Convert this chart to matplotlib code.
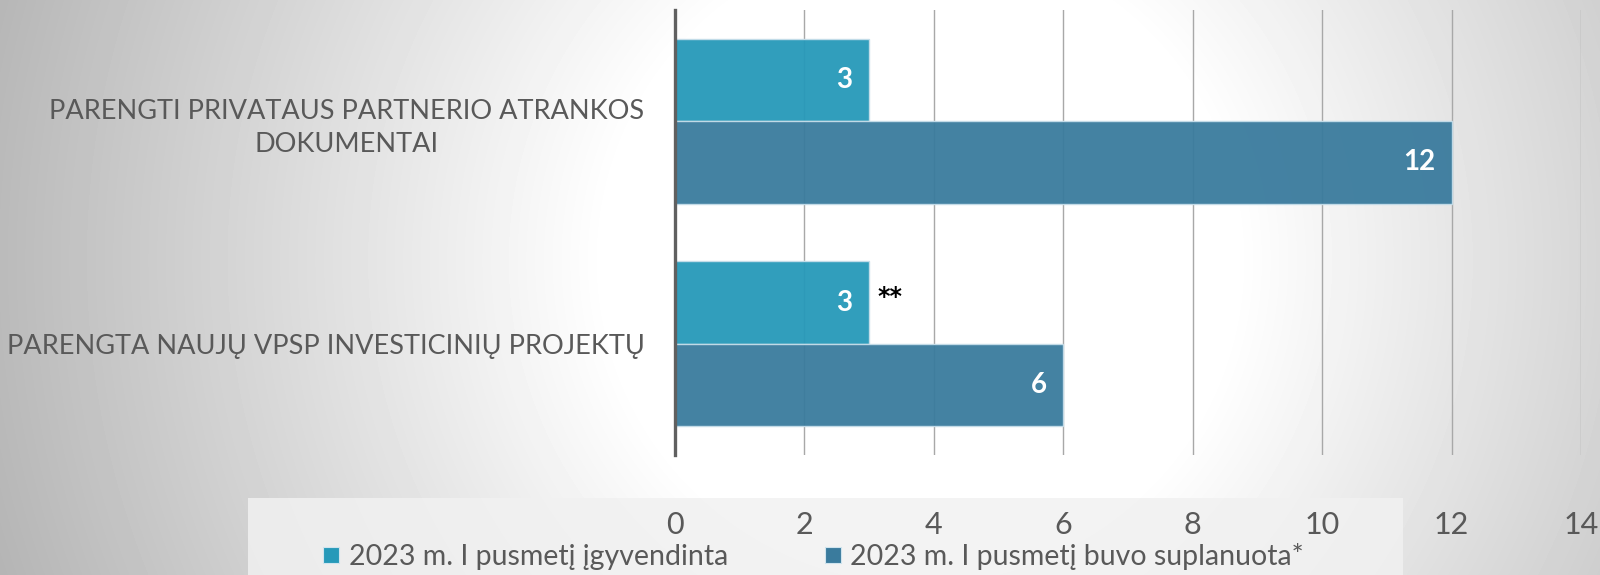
import numpy as np
import matplotlib
matplotlib.use("Agg")
import matplotlib.pyplot as plt
from matplotlib.lines import Line2D
from matplotlib.patches import Rectangle

categories = ["PARENGTI PRIVATAUS PARTNERIO ATRANKOS\nDOKUMENTAI",
              "PARENGTA NAUJŲ VPSP INVESTICINIŲ PROJEKTŲ"]
implemented = [3, 3]
planned = [12, 6]
notes = ["", "**"]
series_names = ["2023 m. I pusmetį įgyvendinta",
                "2023 m. I pusmetį buvo suplanuota*"]
xticks = [0, 2, 4, 6, 8, 10, 12, 14]

light = "#2699b9"
dark = "#3a7b9d"
grey_txt = "#595959"

plt.rcParams['font.family'] = ['Lato', 'DejaVu Sans']

fig = plt.figure(figsize=(16, 5.75), dpi=100)

# radial grey-white background
bg = fig.add_axes([0, 0, 1, 1], zorder=-10)
W, H = 1600, 575
xx, yy = np.meshgrid(np.arange(W), np.arange(H))
r = np.sqrt(((xx - 920) / 900.0) ** 2 + ((yy - 260) / 900.0) ** 2)
val = 1 - 0.26 * np.clip((r - 0.35) / 0.65, 0, 1.2)
bg.imshow(val, cmap='gray', vmin=0, vmax=1, aspect='auto', interpolation='bilinear')
bg.axis('off')

ax = fig.add_axes([675 / 1600, 1 - 455 / 575, 906 / 1600, 445 / 575])
ax.set_facecolor('none')

ypos = np.arange(len(categories))[::-1]  # first category on top
h = 0.37
b1 = ax.barh(ypos + h / 2, implemented, height=h, color=light, alpha=0.95,
             edgecolor='#c5dde9', linewidth=1, zorder=2)
b2 = ax.barh(ypos - h / 2, planned, height=h, color=dark, alpha=0.95,
             edgecolor='#c5dde9', linewidth=1, zorder=2)

for bars in (b1, b2):
    for bar in bars:
        w = bar.get_width()
        ax.annotate(str(int(w)), (w, bar.get_y() + bar.get_height() / 2),
                    xytext=(-12, 0), textcoords='offset points',
                    ha='right', va='center', color='white',
                    fontsize=20, fontweight='bold', zorder=3)

for bar, note in zip(b1, notes):
    if note:
        ax.annotate(note, (bar.get_width(), bar.get_y() + bar.get_height() / 2),
                    xytext=(6, 4), textcoords='offset points',
                    ha='left', va='center', color='black', fontsize=17,
                    fontweight='bold', family=['DejaVu Sans'])

ax.set_xlim(0, 14)
ax.set_ylim(-0.5, 1.5)
ax.set_xticks(xticks)
ax.set_yticks(ypos)
ax.set_yticklabels(categories, fontsize=19.5, color=grey_txt,
                   ha='right', linespacing=1.4)
for t in ax.get_yticklabels():
    t.set_multialignment('center')
ax.tick_params(axis='y', length=0, pad=22)
ax.tick_params(axis='x', length=0, pad=40, labelsize=22, labelcolor=grey_txt)
ax.grid(axis='x', color='#a8a8a8', linewidth=1, zorder=1)
ax.set_axisbelow(True)
for s in ['top', 'right', 'bottom']:
    ax.spines[s].set_visible(False)
ax.spines['left'].set_color('#606060')
ax.spines['left'].set_linewidth(2.4)
ax.spines['left'].set_zorder(4)

# legend area
fig.patches.append(Rectangle((248 / 1600, 0), 1155 / 1600, 77 / 575,
                             transform=fig.transFigure, facecolor='#f1f1f1',
                             edgecolor='none', alpha=0.85, zorder=-5))
handles = [Line2D([], [], linestyle='none', marker='s', markersize=11,
                  markerfacecolor=c, markeredgecolor='#d0e4ee', markeredgewidth=0.8)
           for c in (light, dark)]
leg = fig.legend(handles, series_names, loc='center', ncol=2,
                 bbox_to_anchor=(812 / 1600, 1 - 556 / 575), frameon=False,
                 fontsize=20.5, handlelength=0.8, handletextpad=0.2,
                 columnspacing=3.3, borderpad=0)
for t in leg.get_texts():
    t.set_color(grey_txt)

fig.savefig("out.png", dpi=100)
